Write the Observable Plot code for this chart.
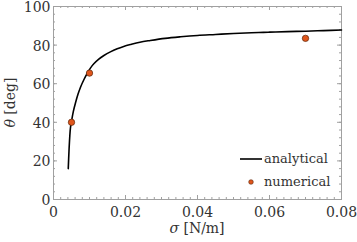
<!DOCTYPE html>
<html><head><meta charset="utf-8">
<script src="https://cdn.jsdelivr.net/npm/d3@7"></script>
<script src="https://cdn.jsdelivr.net/npm/@observablehq/plot@0.6"></script>
<style>
body{margin:0;background:#fff;}
#wrap{position:relative;width:357px;height:242px;}
</style></head><body><div id="wrap"></div>
<script>
// analytical curve
const curveSigma = [0.0041,0.0043,0.0045,0.0047,0.005,0.0055,0.0061,0.0068,0.0075,0.0085,0.0094,0.0103,0.0112,0.0125,0.014,0.0158,0.0177,0.0195,0.0214,0.024,0.0269,0.031,0.0353,0.04,0.045,0.05,0.055,0.06,0.065,0.07,0.075,0.08];
const curveTheta = [16,25,32,37,40.5,45.5,50,54.5,58.2,62.3,65.5,68.2,70.3,72.6,74.6,76.5,78.1,79.3,80.3,81.5,82.4,83.5,84.3,85,85.5,86,86.4,86.7,87,87.2,87.5,87.8];
// numerical points
const numSigma = [0.005, 0.01, 0.07];
const numTheta = [40, 65.5, 83.5];
// ticks
const xTicks = [0, 0.02, 0.04, 0.06, 0.08];
const xTickLabels = ["0", "0.02", "0.04", "0.06", "0.08"];
const yTicks = [0, 20, 40, 60, 80, 100];
const xMinor = d3.range(0, 41).map(i => i * 0.002);
const yMinor = d3.range(0, 26).map(i => i * 4);
const legendLabels = ["analytical", "numerical"];

const curve = curveSigma.map((s, i) => ({s, t: curveTheta[i]}));
const pts = numSigma.map((s, i) => ({s, t: numTheta[i]}));

const FONT = "DejaVu Serif";
const FS = 14;
const frameColor = "#a0a0a0";
const xDom = [0, 0.08], yDom = [0, 100];
const xT = 0.08 / 288, yT = 100 / 193; // data units per pixel
const majorLen = 4, minorLen = 2;

const chart = Plot.plot({
  width: 357, height: 242,
  marginLeft: 53, marginTop: 6, marginRight: 16, marginBottom: 43,
  x: {domain: xDom},
  y: {domain: yDom},
  style: {fontFamily: FONT, fontSize: FS + "px", color: "#333", background: "#fff"},
  marks: [
    Plot.frame({stroke: frameColor, strokeWidth: 1}),
    Plot.ruleX(xMinor, {y1: 0, y2: minorLen * yT, stroke: frameColor}),
    Plot.ruleX(xMinor, {y1: 100, y2: 100 - minorLen * yT, stroke: frameColor}),
    Plot.ruleX(xTicks, {y1: 0, y2: majorLen * yT, stroke: frameColor}),
    Plot.ruleX(xTicks, {y1: 100, y2: 100 - majorLen * yT, stroke: frameColor}),
    Plot.ruleY(yMinor, {x1: 0, x2: minorLen * xT, stroke: frameColor}),
    Plot.ruleY(yMinor, {x1: 0.08, x2: 0.08 - minorLen * xT, stroke: frameColor}),
    Plot.ruleY(yTicks, {x1: 0, x2: majorLen * xT, stroke: frameColor}),
    Plot.ruleY(yTicks, {x1: 0.08, x2: 0.08 - majorLen * xT, stroke: frameColor}),
    Plot.axisX({ticks: xTicks, tickSize: 0, tickPadding: 8, label: null,
      tickFormat: (d, i) => xTickLabels[i], fill: "#333", fontSize: FS}),
    Plot.axisY({ticks: yTicks, tickSize: 0, tickPadding: 3, dy: 1, label: null, fill: "#333", fontSize: FS}),
    Plot.line(curve, {x: "s", y: "t", stroke: "#000", strokeWidth: 1.6, curve: "catmull-rom"}),
    Plot.dot(pts, {x: "s", y: "t", r: 3.2, fill: "#e0561c", stroke: "#5a2508", strokeWidth: 0.7})
  ]
});
document.getElementById("wrap").appendChild(chart);

const svg = d3.select(chart);
const xs = chart.scale("x"), ys = chart.scale("y");
const xMid = (xs.range[0] + xs.range[1]) / 2;
const yMid = (ys.range[0] + ys.range[1]) / 2;
const xl = svg.append("text").attr("x", xMid).attr("y", 233).attr("text-anchor", "middle")
  .attr("font-size", FS).attr("fill", "#333");
xl.append("tspan").attr("font-style", "italic").text("σ");
xl.append("tspan").text(" [N/m]");
const yl = svg.append("text").attr("transform", `translate(15,${yMid}) rotate(-90)`).attr("text-anchor", "middle")
  .attr("font-size", FS).attr("fill", "#333");
yl.append("tspan").attr("font-style", "italic").text("θ");
yl.append("tspan").text(" [deg]");

// legend inside the frame, bottom-right
const lg = svg.append("g").attr("font-size", 13).attr("fill", "#333").attr("text-anchor", "start");
const tx = xs.range[1] - 77, ly = ys.range[0] - 36;
lg.append("line").attr("x1", tx - 24).attr("x2", tx - 2).attr("y1", ly - 4).attr("y2", ly - 4)
  .attr("stroke", "#000").attr("stroke-width", 1.6);
lg.append("text").attr("x", tx).attr("y", ly).text(legendLabels[0]);
lg.append("circle").attr("cx", tx - 13).attr("cy", ly + 19).attr("r", 2.3)
  .attr("fill", "#e0561c").attr("stroke", "#5a2508").attr("stroke-width", 0.6);
lg.append("text").attr("x", tx).attr("y", ly + 23).text(legendLabels[1]);

svg.selectAll("text").attr("font-family", FONT).style("font-family", FONT);
</script></body></html>
